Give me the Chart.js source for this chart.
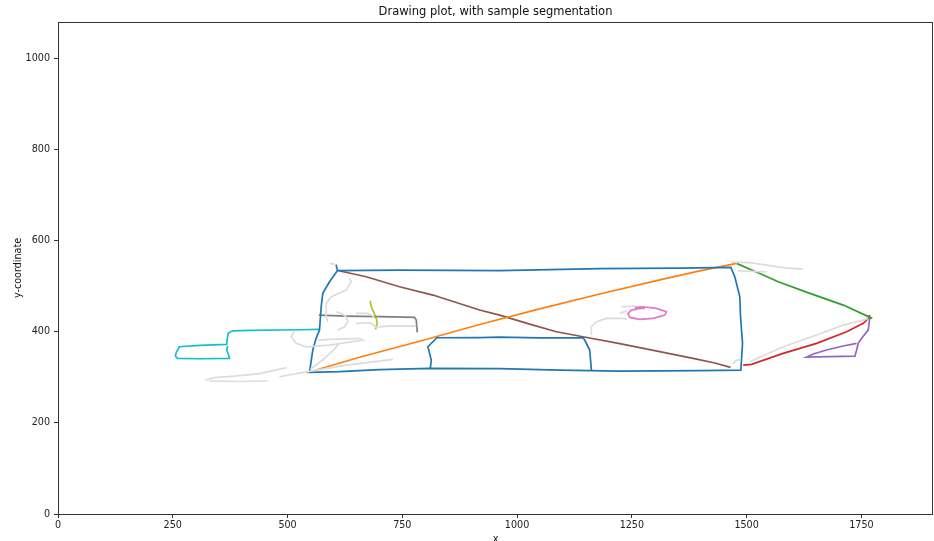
<!DOCTYPE html>
<html>
<head>
<meta charset="utf-8">
<title>Drawing plot</title>
<script src="https://cdn.jsdelivr.net/npm/chart.js@4.4.1/dist/chart.umd.min.js"></script>
<style>
  html, body { margin: 0; padding: 0; background: #fff; }
  canvas { display: block; }
</style>
</head>
<body>
<canvas id="drawing" width="934" height="541"></canvas>
<script>
// stroke coordinates, [x, y] pairs
const segBlueOuter = [[605.6,547.5],[608.9,534.3],[744.0,535.4],[962.0,534.3],[1180.0,538.7],[1354.4,539.8],[1465.6,541.4],
  [1474.3,520.7],[1485.2,476.8],[1486.7,433.0],[1491.1,374.6],[1487.4,316.0],[1398.0,314.9],[1223.6,313.8],[1092.8,316.0],
  [962.0,319.3],[809.4,319.7],[700.4,317.1],[613.2,312.7],[547.8,311.0],[555.0,359.9],[562.4,386.2],[569.6,403.8],
  [573.3,454.9],[576.8,484.3],[591.4,509.8],[608.9,534.3]];
const segBlueInner = [[811.0,319.7],[813.1,337.9],[809.4,352.6],[805.7,367.1],[825.3,386.9],[918.4,387.3],[962.0,388.4],
  [1049.2,386.7],[1143.6,386.9],[1147.3,381.8],[1158.2,359.9],[1162.0,314.5]];
const segOrange = [[542.0,310.1],[656.8,344.1],[787.6,379.2],[918.4,415.9],[1049.2,450.3],[1180.0,482.9],[1310.8,513.9],
  [1398.0,533.6],[1478.0,550.1]];
const segGreen = [[1478.0,550.1],[1528.8,527.8],[1568.8,509.8],[1637.9,484.3],[1710.5,458.6],[1773.7,429.4]];
const segRed = [[1492.4,327.0],[1510.7,328.5],[1579.6,352.6],[1652.4,374.6],[1717.8,400.0],[1754.1,418.5],[1764.9,429.4],[1768.6,436.7]];
const segPurple = [[1768.6,433.0],[1764.9,403.8],[1750.5,385.6],[1743.1,374.6],[1739.6,359.9],[1735.9,346.7],[1630.6,344.5],
  [1645.0,351.1],[1674.2,359.9],[1710.4,368.7],[1739.6,374.6]];
const segBrown = [[611.7,533.9],[671.4,520.7],[744.0,498.8],[816.6,480.6],[918.4,447.7],[962.0,436.6],[1027.4,416.9],
  [1085.6,400.0],[1143.6,389.1],[1223.6,374.1],[1289.0,361.0],[1383.4,341.7],[1430.7,331.4],[1465.0,321.9]];
const segPink = [[1256.3,453.6],[1274.4,454.9],[1303.6,451.4],[1325.4,443.9],[1321.7,436.7],[1296.2,429.4],[1267.2,427.3],
  [1245.4,431.6],[1241.7,440.4],[1249.1,447.7],[1267.2,451.4],[1278.1,451.4]];
const segGray = [[568.1,436.7],[627.8,434.5],[700.4,433.4],[776.7,431.6],[780.4,425.7],[782.6,398.7]];
const segOlive = [[680.2,468.1],[682.4,454.9],[687.4,443.9],[693.2,429.4],[695.4,418.5],[691.7,405.3]];
const segCyan = [[569.6,405.3],[526.0,404.4],[417.0,403.1],[380.0,402.2],[370.6,396.5],[368.4,381.8],[367.5,372.4],[308.0,370.2],
  [264.4,367.1],[257.9,355.5],[255.7,346.7],[260.1,341.7],[308.0,340.8],[373.5,341.7],[371.3,349.6],[367.5,359.9],[369.7,368.7]];

// unsegmented strokes, drawn faint underneath
const otherStrokes = [
  [[321.1,294.0],[340.7,299.5],[384.3,302.8],[438.8,308.3],[497.7,321.4]],
  [[329.8,291.9],[395.2,290.8],[456.2,291.9]],
  [[482.4,301.2],[540.6,312.1],[627.8,326.8],[729.4,339.3]],
  [[635.0,517.2],[638.7,509.8],[627.8,491.6],[595.1,476.8],[584.2,462.4],[584.2,433.0],[587.7,422.0]],
  [[515.1,402.4],[507.9,389.1],[518.8,374.6],[540.6,367.1],[591.4,370.9],[664.0,381.8],[656.8,385.6],[591.4,383.4],[565.3,381.8]],
  [[550.0,318.2],[576.2,337.9],[602.3,362.1],[613.2,375.2]],
  [[606.0,443.9],[616.9,440.4],[627.8,433.0],[631.3,422.0],[624.1,410.4],[608.9,403.8]],
  [[649.6,440.4],[674.9,440.4],[689.5,433.0]],
  [[649.6,418.5],[678.6,419.8],[693.2,411.0],[722.2,412.5],[780.4,412.5]],
  [[1161.9,392.8],[1161.9,411.0],[1172.8,422.0],[1194.6,429.4],[1230.8,429.4],[1238.9,427.3]],
  [[1227.3,454.9],[1258.5,456.4]],
  [[1223.6,440.4],[1238.9,446.1]],
  [[1470.0,329.2],[1476.5,336.8],[1487.4,339.5]],
  [[1507.0,334.2],[1579.6,367.1],[1652.4,392.8],[1710.4,414.7],[1754.0,425.7],[1764.9,429.4]],
  [[1467.1,553.0],[1507.0,551.9],[1543.4,546.4],[1587.0,539.8],[1623.2,537.6]],
  [[1481.5,533.9],[1543.4,531.7]],
  [[591.4,550.1],[602.3,548.6]]
];

const xTicks = [0, 250, 500, 750, 1000, 1250, 1500, 1750];
const yTicks = [0, 200, 400, 600, 800, 1000];

const FONT = "'DejaVu Sans', sans-serif";

function toPoints(arr) {
  return arr.map(p => ({ x: p[0], y: p[1] }));
}

function stroke(arr, color) {
  return {
    data: toPoints(arr),
    showLine: true,
    borderColor: color,
    borderWidth: 1.7,
    pointRadius: 0,
    fill: false,
    tension: 0
  };
}

const datasets = [];
otherStrokes.forEach(s => datasets.push(stroke(s, '#dcdcdc')));
datasets.push(stroke(segBlueOuter, '#1f77b4'));
datasets.push(stroke(segBlueInner, '#1f77b4'));
datasets.push(stroke(segOrange, '#ff7f0e'));
datasets.push(stroke(segGreen, '#2ca02c'));
datasets.push(stroke(segRed, '#d62728'));
datasets.push(stroke(segPurple, '#9467bd'));
datasets.push(stroke(segBrown, '#8c564b'));
datasets.push(stroke(segPink, '#e377c2'));
datasets.push(stroke(segGray, '#7f7f7f'));
datasets.push(stroke(segOlive, '#bcbd22'));
datasets.push(stroke(segCyan, '#17becf'));

// frame + title + axis labels
const framePlugin = {
  id: 'frame',
  afterDraw(chart) {
    const { ctx, chartArea: a } = chart;
    ctx.save();
    ctx.strokeStyle = '#333';
    ctx.lineWidth = 1;
    ctx.strokeRect(a.left + 0.5, a.top + 0.5, a.right - a.left - 1, a.bottom - a.top);
    ctx.fillStyle = '#111';
    ctx.textAlign = 'center';
    ctx.textBaseline = 'middle';
    ctx.font = '11.5px ' + FONT;
    ctx.fillText('Drawing plot, with sample segmentation', (a.left + a.right) / 2, 12);
    ctx.font = '9.6px ' + FONT;
    ctx.textBaseline = 'top';
    ctx.fillText('x', (a.left + a.right) / 2, 535);
    ctx.translate(18, (a.top + a.bottom) / 2);
    ctx.rotate(-Math.PI / 2);
    ctx.textBaseline = 'middle';
    ctx.fillText('y-coordinate', 0, 0);
    ctx.restore();
  }
};

new Chart(document.getElementById('drawing'), {
  type: 'scatter',
  data: { datasets },
  options: {
    responsive: false,
    animation: false,
    layout: { padding: { top: 22, right: 1, left: 0, bottom: 0 } },
    plugins: { legend: { display: false }, tooltip: { enabled: false } },
    scales: {
      x: {
        type: 'linear',
        min: 0,
        max: 1906,
        afterFit(scale) { scale.height = 27; },
        afterBuildTicks(scale) { scale.ticks = xTicks.map(v => ({ value: v })); },
        border: { display: false },
        grid: { drawOnChartArea: false, drawTicks: true, tickLength: 4, color: '#333' },
        ticks: { color: '#222', padding: 2, maxRotation: 0, font: { family: FONT, size: 9.6 },
          callback: v => String(v) }
      },
      y: {
        type: 'linear',
        min: 0,
        max: 1080,
        afterFit(scale) { scale.width = 58; },
        afterBuildTicks(scale) { scale.ticks = yTicks.map(v => ({ value: v })); },
        border: { display: false },
        grid: { drawOnChartArea: false, drawTicks: true, tickLength: 4, color: '#333' },
        ticks: { color: '#222', padding: 4, font: { family: FONT, size: 9.6 },
          callback: v => String(v) }
      }
    }
  },
  plugins: [framePlugin]
});
</script>
</body>
</html>
